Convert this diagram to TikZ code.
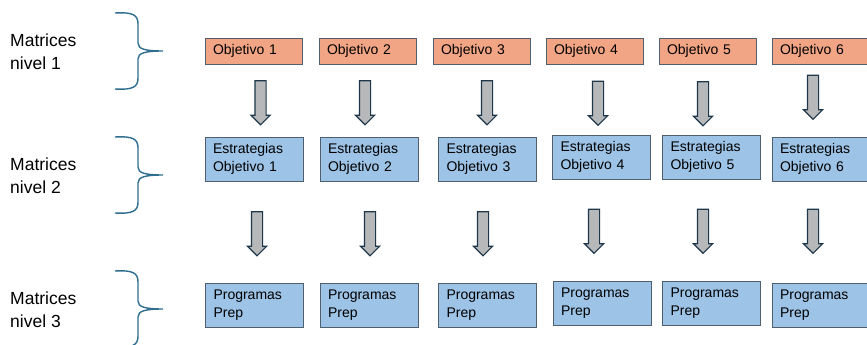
\documentclass[tikz,border=0pt]{standalone}
\usepackage{fontspec}
\setmainfont{Liberation Sans}
\usetikzlibrary{shapes.arrows}

\definecolor{objfill}{RGB}{242,165,133}
\definecolor{estfill}{RGB}{157,195,230}
\definecolor{boxline}{RGB}{80,95,110}
\definecolor{arrowfill}{RGB}{182,184,186}
\definecolor{arrowline}{RGB}{30,55,75}
\definecolor{bracecol}{RGB}{46,110,142}

\tikzset{
  objbox/.style={draw=boxline,fill=objfill,line width=0.8pt,text width=81pt,inner xsep=8pt,inner ysep=3pt,minimum height=26pt,align=left,font=\fontsize{14}{17}\selectfont},
  estbox/.style={draw=boxline,fill=estfill,line width=0.8pt,text width=82pt,inner xsep=8pt,inner ysep=3pt,minimum height=44pt,align=left,font=\fontsize{14}{18}\selectfont},
  levellabel/.style={anchor=west,align=left,inner sep=0pt,font=\fontsize{17.5}{23}\selectfont},
  blockarrow/.style={single arrow,draw=arrowline,fill=arrowfill,line width=1.1pt,shape border rotate=270,minimum height=44pt,inner sep=5pt,single arrow head extend=4pt},
  levelbrace/.style={draw=bracecol,line width=1.4pt}
}

\begin{document}
\begin{tikzpicture}[x=1pt,y=-1pt]
\fill[white] (0,0) rectangle (867,345);
\useasboundingbox (0,0) rectangle (867,345);

% left labels
\node[levellabel] (m1) at (10,51.5) {Matrices\\nivel 1};
\node[levellabel] (m2) at (10,175.5) {Matrices\\nivel 2};
\node[levellabel] (m3) at (10,309.5) {Matrices\\nivel 3};

% braces
\draw[levelbrace] (115,13) .. controls (133,12) and (138,15) .. (138,24) -- (138,43) .. controls (138,49) and (145,51) .. (163,51) .. controls (145,51) and (138,53) .. (138,59) -- (138,78) .. controls (138,87) and (133,90) .. (115,89);
\draw[levelbrace] (115,137) .. controls (133,136) and (138,139) .. (138,148) -- (138,167) .. controls (138,173) and (145,175) .. (163,175) .. controls (145,175) and (138,177) .. (138,183) -- (138,202) .. controls (138,211) and (133,214) .. (115,213);
\draw[levelbrace] (115,271) .. controls (133,270) and (138,273) .. (138,282) -- (138,301) .. controls (138,307) and (145,309) .. (163,309) .. controls (145,309) and (138,311) .. (138,317) -- (138,336) .. controls (138,345) and (133,348) .. (115,347);

% level 1
\node[objbox] (o1) at (253.5,51) {Objetivo 1};
\node[objbox] (o2) at (367.5,51) {Objetivo 2};
\node[objbox] (o3) at (481.5,51) {Objetivo 3};
\node[objbox] (o4) at (594.5,51) {Objetivo 4};
\node[objbox] (o5) at (707.5,51) {Objetivo 5};
\node[objbox] (o6) at (820.5,51) {Objetivo 6};

% level 2
\node[estbox] (e1) at (254,159) {Estrategias\\Objetivo 1};
\node[estbox] (e2) at (369,159) {Estrategias\\Objetivo 2};
\node[estbox] (e3) at (487.5,159) {Estrategias\\Objetivo 3};
\node[estbox] (e4) at (601.5,157) {Estrategias\\Objetivo 4};
\node[estbox] (e5) at (711.5,157) {Estrategias\\Objetivo 5};
\node[estbox] (e6) at (821,159) {Estrategias\\Objetivo 6};

% level 3
\node[estbox] (p1) at (254.5,305) {Programas\\Prep};
\node[estbox] (p2) at (369,305) {Programas\\Prep};
\node[estbox] (p3) at (487.5,305) {Programas\\Prep};
\node[estbox] (p4) at (602,303.5) {Programas\\Prep};
\node[estbox] (p5) at (711.5,303.5) {Programas\\Prep};
\node[estbox] (p6) at (821,305) {Programas\\Prep};

% arrows level 1 to 2
\node[blockarrow] (a1) at (260.5,100) {};
\node[blockarrow] (a2) at (365,100) {};
\node[blockarrow] (a3) at (487,100) {};
\node[blockarrow] (a4) at (598,100.5) {};
\node[blockarrow] (a5) at (703,101) {};
\node[blockarrow] (a6) at (813,94.5) {};

% arrows level 2 to 3
\node[blockarrow] (b1) at (257,231) {};
\node[blockarrow] (b2) at (370,231) {};
\node[blockarrow] (b3) at (483,231) {};
\node[blockarrow] (b4) at (594,228.5) {};
\node[blockarrow] (b5) at (703,228.5) {};
\node[blockarrow] (b6) at (813,228.5) {};
\end{tikzpicture}
\end{document}
